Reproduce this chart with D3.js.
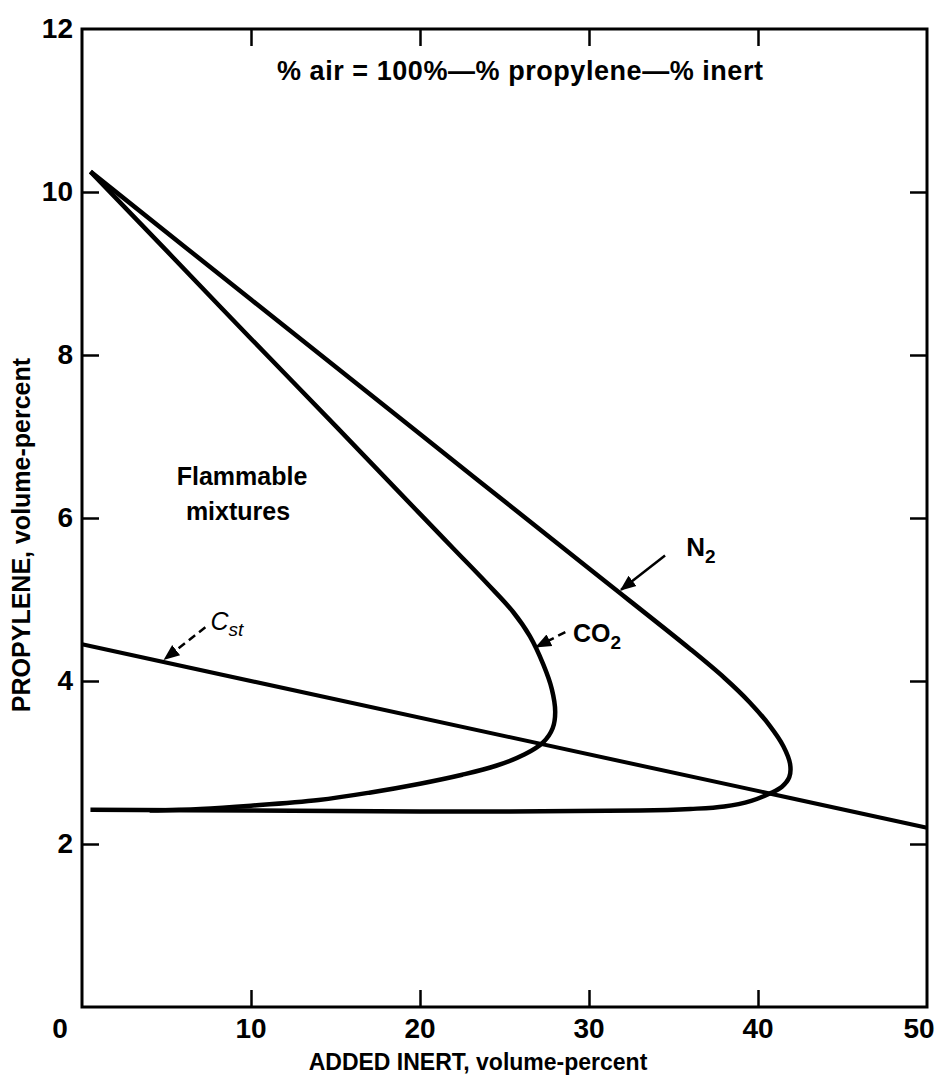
<!DOCTYPE html>
<html>
<head>
<meta charset="utf-8">
<script src="https://cdn.jsdelivr.net/npm/d3@7"></script>
<style>
  html, body { margin: 0; padding: 0; background: #fff; }
  svg { display: block; }
  text { font-family: "Liberation Sans", Arial, sans-serif; fill: #000; }
</style>
</head>
<body>
<svg id="chart" width="940" height="1079"></svg>
<script>
// ---------- data ----------
const xTicks = [0, 10, 20, 30, 40, 50];
const yTicks = [2, 4, 6, 8, 10, 12];
const innerTicksX = [10, 20, 30, 40];
const innerTicksY = [2, 4, 6, 8, 10];

// N2 boundary (upper branch -> nose -> lower branch)
const n2X = [0.5, 10, 20, 30, 36, 38, 39.5, 40.7, 41.5, 41.9, 41.85, 41.4, 40.7, 39.6, 38, 36, 33, 20, 10, 0.5];
const n2Y = [10.25, 8.68, 7.03, 5.38, 4.39, 4.04, 3.74, 3.45, 3.2, 2.98, 2.82, 2.7, 2.62, 2.53, 2.46, 2.43, 2.41, 2.4, 2.41, 2.42];

// CO2 boundary
const co2X = [0.5, 5, 10, 15, 20, 22, 24, 25.5, 26.5, 27.3, 27.8, 28, 27.85, 27.3, 26.2, 24.5, 22.5, 20, 17, 14, 10, 7, 4];
const co2Y = [10.25, 9.28, 8.2, 7.13, 6.05, 5.62, 5.19, 4.85, 4.55, 4.2, 3.9, 3.62, 3.42, 3.25, 3.1, 2.96, 2.85, 2.74, 2.63, 2.54, 2.47, 2.43, 2.41];

// stoichiometric line Cst
const cstX = [0, 50];
const cstY = [4.45, 2.2];

// ---------- layout ----------
const svg = d3.select("#chart");
const pL = 82, pR = 927, pT = 29, pB = 1007;
const x = d3.scaleLinear().domain([0, 50]).range([pL, pR]);
const y = d3.scaleLinear().domain([0, 12]).range([pB, pT]);

const zip = (xs, ys) => xs.map((v, i) => [v, ys[i]]);

// frame
svg.append("rect")
  .attr("x", pL).attr("y", pT)
  .attr("width", pR - pL).attr("height", pB - pT)
  .attr("fill", "none").attr("stroke", "#000").attr("stroke-width", 3);

// axes with inner ticks
const tickLen = 17;
const axB = d3.axisBottom(x).tickValues(innerTicksX).tickSize(-tickLen).tickFormat("");
const axT = d3.axisTop(x).tickValues(innerTicksX).tickSize(-tickLen).tickFormat("");
const axL = d3.axisLeft(y).tickValues(innerTicksY).tickSize(-tickLen).tickFormat("");
const axR = d3.axisRight(y).tickValues(innerTicksY).tickSize(-tickLen).tickFormat("");
[[axB, `translate(0,${pB})`], [axT, `translate(0,${pT})`],
 [axL, `translate(${pL},0)`], [axR, `translate(${pR},0)`]].forEach(([ax, tr]) => {
  const g = svg.append("g").attr("transform", tr).call(ax);
  g.select(".domain").remove();
  g.selectAll(".tick line").attr("stroke", "#000").attr("stroke-width", 2.5);
});

// tick labels
svg.append("g").selectAll("text").data(xTicks).join("text")
  .attr("x", d => x(d) + (d === 0 ? -22 : (d === 50 ? -8 : 0)))
  .attr("y", pB + 31)
  .attr("text-anchor", "middle")
  .attr("font-size", 28).attr("font-weight", "bold")
  .text(d => d);
svg.append("g").selectAll("text").data(yTicks).join("text")
  .attr("x", pL - 9)
  .attr("y", d => y(d) + 9)
  .attr("text-anchor", "end")
  .attr("font-size", 28).attr("font-weight", "bold")
  .text(d => d);

// axis titles
svg.append("text")
  .attr("x", 478).attr("y", 1070)
  .attr("text-anchor", "middle").attr("font-size", 23).attr("font-weight", "bold")
  .text("ADDED INERT, volume-percent");
svg.append("text")
  .attr("transform", `translate(30,535) rotate(-90)`)
  .attr("text-anchor", "middle").attr("font-size", 25).attr("font-weight", "bold")
  .text("PROPYLENE, volume-percent");

// curves
const line = d3.line().x(d => x(d[0])).y(d => y(d[1])).curve(d3.curveCatmullRom.alpha(0.5));
svg.append("path").datum(zip(n2X, n2Y)).attr("d", line)
  .attr("fill", "none").attr("stroke", "#000").attr("stroke-width", 4.5).attr("stroke-linejoin", "round");
svg.append("path").datum(zip(co2X, co2Y)).attr("d", line)
  .attr("fill", "none").attr("stroke", "#000").attr("stroke-width", 4.5).attr("stroke-linejoin", "round");
svg.append("path").datum(zip(cstX, cstY)).attr("d", d3.line().x(d => x(d[0])).y(d => y(d[1])))
  .attr("fill", "none").attr("stroke", "#000").attr("stroke-width", 4);

// arrow marker
svg.append("defs").append("marker")
  .attr("id", "arr").attr("viewBox", "0 0 10 10").attr("refX", 9).attr("refY", 5)
  .attr("markerWidth", 16).attr("markerHeight", 16).attr("orient", "auto")
  .attr("markerUnits", "userSpaceOnUse")
  .append("path").attr("d", "M0,1 L10,5 L0,9 z").attr("fill", "#000");

function arrow(from, to, dashed) {
  svg.append("line")
    .attr("x1", x(from[0])).attr("y1", y(from[1]))
    .attr("x2", x(to[0])).attr("y2", y(to[1]))
    .attr("stroke", "#000").attr("stroke-width", 2.5)
    .attr("stroke-dasharray", dashed ? "8,5" : null)
    .attr("marker-end", "url(#arr)");
}
arrow([34.5, 5.54], [31.9, 5.12], false);
arrow([28.6, 4.6], [26.9, 4.42], true);
arrow([7.3, 4.66], [4.9, 4.27], true);

// labels
const n2 = svg.append("text").attr("x", x(35.75)).attr("y", y(5.53))
  .attr("font-size", 26).attr("font-weight", "bold");
n2.append("tspan").text("N");
n2.append("tspan").attr("font-size", 19).attr("dy", 7).text("2");

const co2 = svg.append("text").attr("x", x(29.05)).attr("y", y(4.48))
  .attr("font-size", 25).attr("font-weight", "bold");
co2.append("tspan").text("CO");
co2.append("tspan").attr("font-size", 19).attr("dy", 7).text("2");

const cst = svg.append("text").attr("x", x(7.6)).attr("y", y(4.63))
  .attr("font-size", 25).attr("font-style", "italic");
cst.append("tspan").text("C");
cst.append("tspan").attr("font-size", 19).attr("dy", 6).text("st");

svg.append("text").attr("x", 242).attr("y", 485)
  .attr("text-anchor", "middle").attr("font-size", 25).attr("font-weight", "bold")
  .text("Flammable");
svg.append("text").attr("x", 238).attr("y", 520)
  .attr("text-anchor", "middle").attr("font-size", 25).attr("font-weight", "bold")
  .text("mixtures");

svg.append("text").attr("x", 277).attr("y", 80)
  .attr("font-size", 27).attr("font-weight", "bold")
  .attr("textLength", 486).attr("lengthAdjust", "spacing")
  .text("% air = 100%\u2014% propylene\u2014% inert");
</script>
</body>
</html>
